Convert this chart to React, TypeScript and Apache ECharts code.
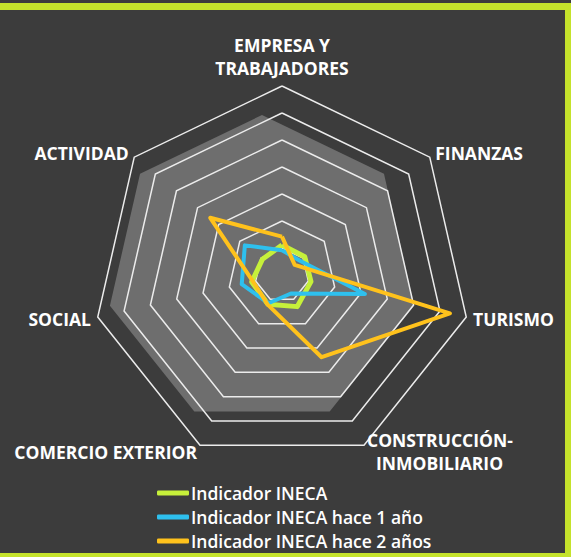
import React, { useEffect, useRef } from "react";
import * as echarts from "echarts";

// Categories in clockwise order as shown (starting at top)
const categories = [
  "EMPRESA Y\nTRABAJADORES",
  "FINANZAS",
  "TURISMO",
  "CONSTRUCCIÓN-\nINMOBILIARIO",
  "COMERCIO EXTERIOR",
  "SOCIAL",
  "ACTIVIDAD",
];
const seriesNames = [
  "Indicador INECA",
  "Indicador INECA hace 1 año",
  "Indicador INECA hace 2 años",
];
const actual = [1.11, 1.08, 1.1, 1.3, 1.2, 1.15, 0.93];
const hace1 = [0.92, 0.85, 3.15, 0.76, 1.16, 1.53, 1.76];
const hace2 = [1.42, 0.6, 6.38, 3.38, 1.22, 1.1, 3.4];
const axisMax = 7;
const backdropValue = 7;

// ECharts places indicators counter-clockwise: reorder
const toCCW = <T,>(arr: T[]): T[] => [arr[0], ...arr.slice(1).reverse()];

export default function App() {
  const ref = useRef<HTMLDivElement>(null);
  useEffect(() => {
    document.body.style.margin = "0";
    if (!ref.current) return;
    const chart = echarts.init(ref.current, undefined, { renderer: "svg" });
    const font = "'Open Sans', 'Noto Sans', sans-serif";
    const indicators = toCCW(categories).map((name) => ({ name, max: axisMax, min: 0 }));
    const nameStyle = {
      color: "#ffffff",
      fontSize: 17.5,
      fontWeight: "bold",
      fontFamily: font,
      lineHeight: 23,
    };
    chart.setOption({
      animation: false,
      backgroundColor: "#3c3c3c",
      graphic: [
        { type: "rect", shape: { x: 0, y: 3, width: 571, height: 7 }, style: { fill: "#c5e32b" }, z: 100 },
        { type: "rect", shape: { x: 565, y: 3, width: 6, height: 554 }, style: { fill: "#c5e32b" }, z: 100 },
        { type: "rect", shape: { x: 0, y: 553, width: 571, height: 4 }, style: { fill: "#c5e32b" }, z: 100 },
      ],
      legend: {
        orient: "vertical",
        left: 157,
        top: 483,
        padding: 0,
        itemWidth: 32,
        itemHeight: 5,
        itemGap: 4,
        icon: "roundRect",
        data: seriesNames,
        textStyle: {
          color: "#ffffff",
          fontSize: 17.5,
          fontWeight: 600,
          fontFamily: font,
          lineHeight: 20,
          padding: [0, 0, 0, -3],
        },
      },
      radar: [
        {
          center: [262, 271],
          radius: 156 * (backdropValue / axisMax),
          splitNumber: 1,
          z: 0,
          indicator: indicators,
          axisName: { show: false },
          axisLine: { show: false },
          axisTick: { show: false },
          splitLine: { show: false },
          splitArea: { show: true, areaStyle: { color: ["#6e6e6e"] } },
        },
        {
          center: [282, 275],
          radius: 189,
          splitNumber: 7,
          z: 1,
          indicator: indicators,
          nameGap: 7,
          axisName: {
            ...nameStyle,
            formatter: (name: string) => {
              if (name.startsWith("CONSTRUCC")) {
                const [a, b] = name.split("\n");
                return `{a|${a}}\n{b|${b}}`;
              }
              return name;
            },
            rich: {
              a: { ...nameStyle },
              b: { ...nameStyle, padding: [0, 0, 0, 9] },
            },
          },
          axisLine: { show: false },
          axisTick: { show: false },
          splitArea: { show: false },
          splitLine: { lineStyle: { color: "#ececec", width: 1.5 } },
        },
      ],
      series: [
        {
          type: "radar",
          radarIndex: 1,
          symbol: "none",
          data: [
            {
              name: seriesNames[0],
              value: toCCW(actual),
              lineStyle: { color: "#c6f03a", width: 5 },
              itemStyle: { color: "#c6f03a" },
            },
            {
              name: seriesNames[1],
              value: toCCW(hace1),
              lineStyle: { color: "#2ec0ee", width: 4 },
              itemStyle: { color: "#2ec0ee" },
            },
            {
              name: seriesNames[2],
              value: toCCW(hace2),
              lineStyle: { color: "#ffc21c", width: 4 },
              itemStyle: { color: "#ffc21c" },
            },
          ],
        },
      ],
    });
    return () => chart.dispose();
  }, []);
  return <div ref={ref} style={{ width: 571, height: 557 }} />;
}
